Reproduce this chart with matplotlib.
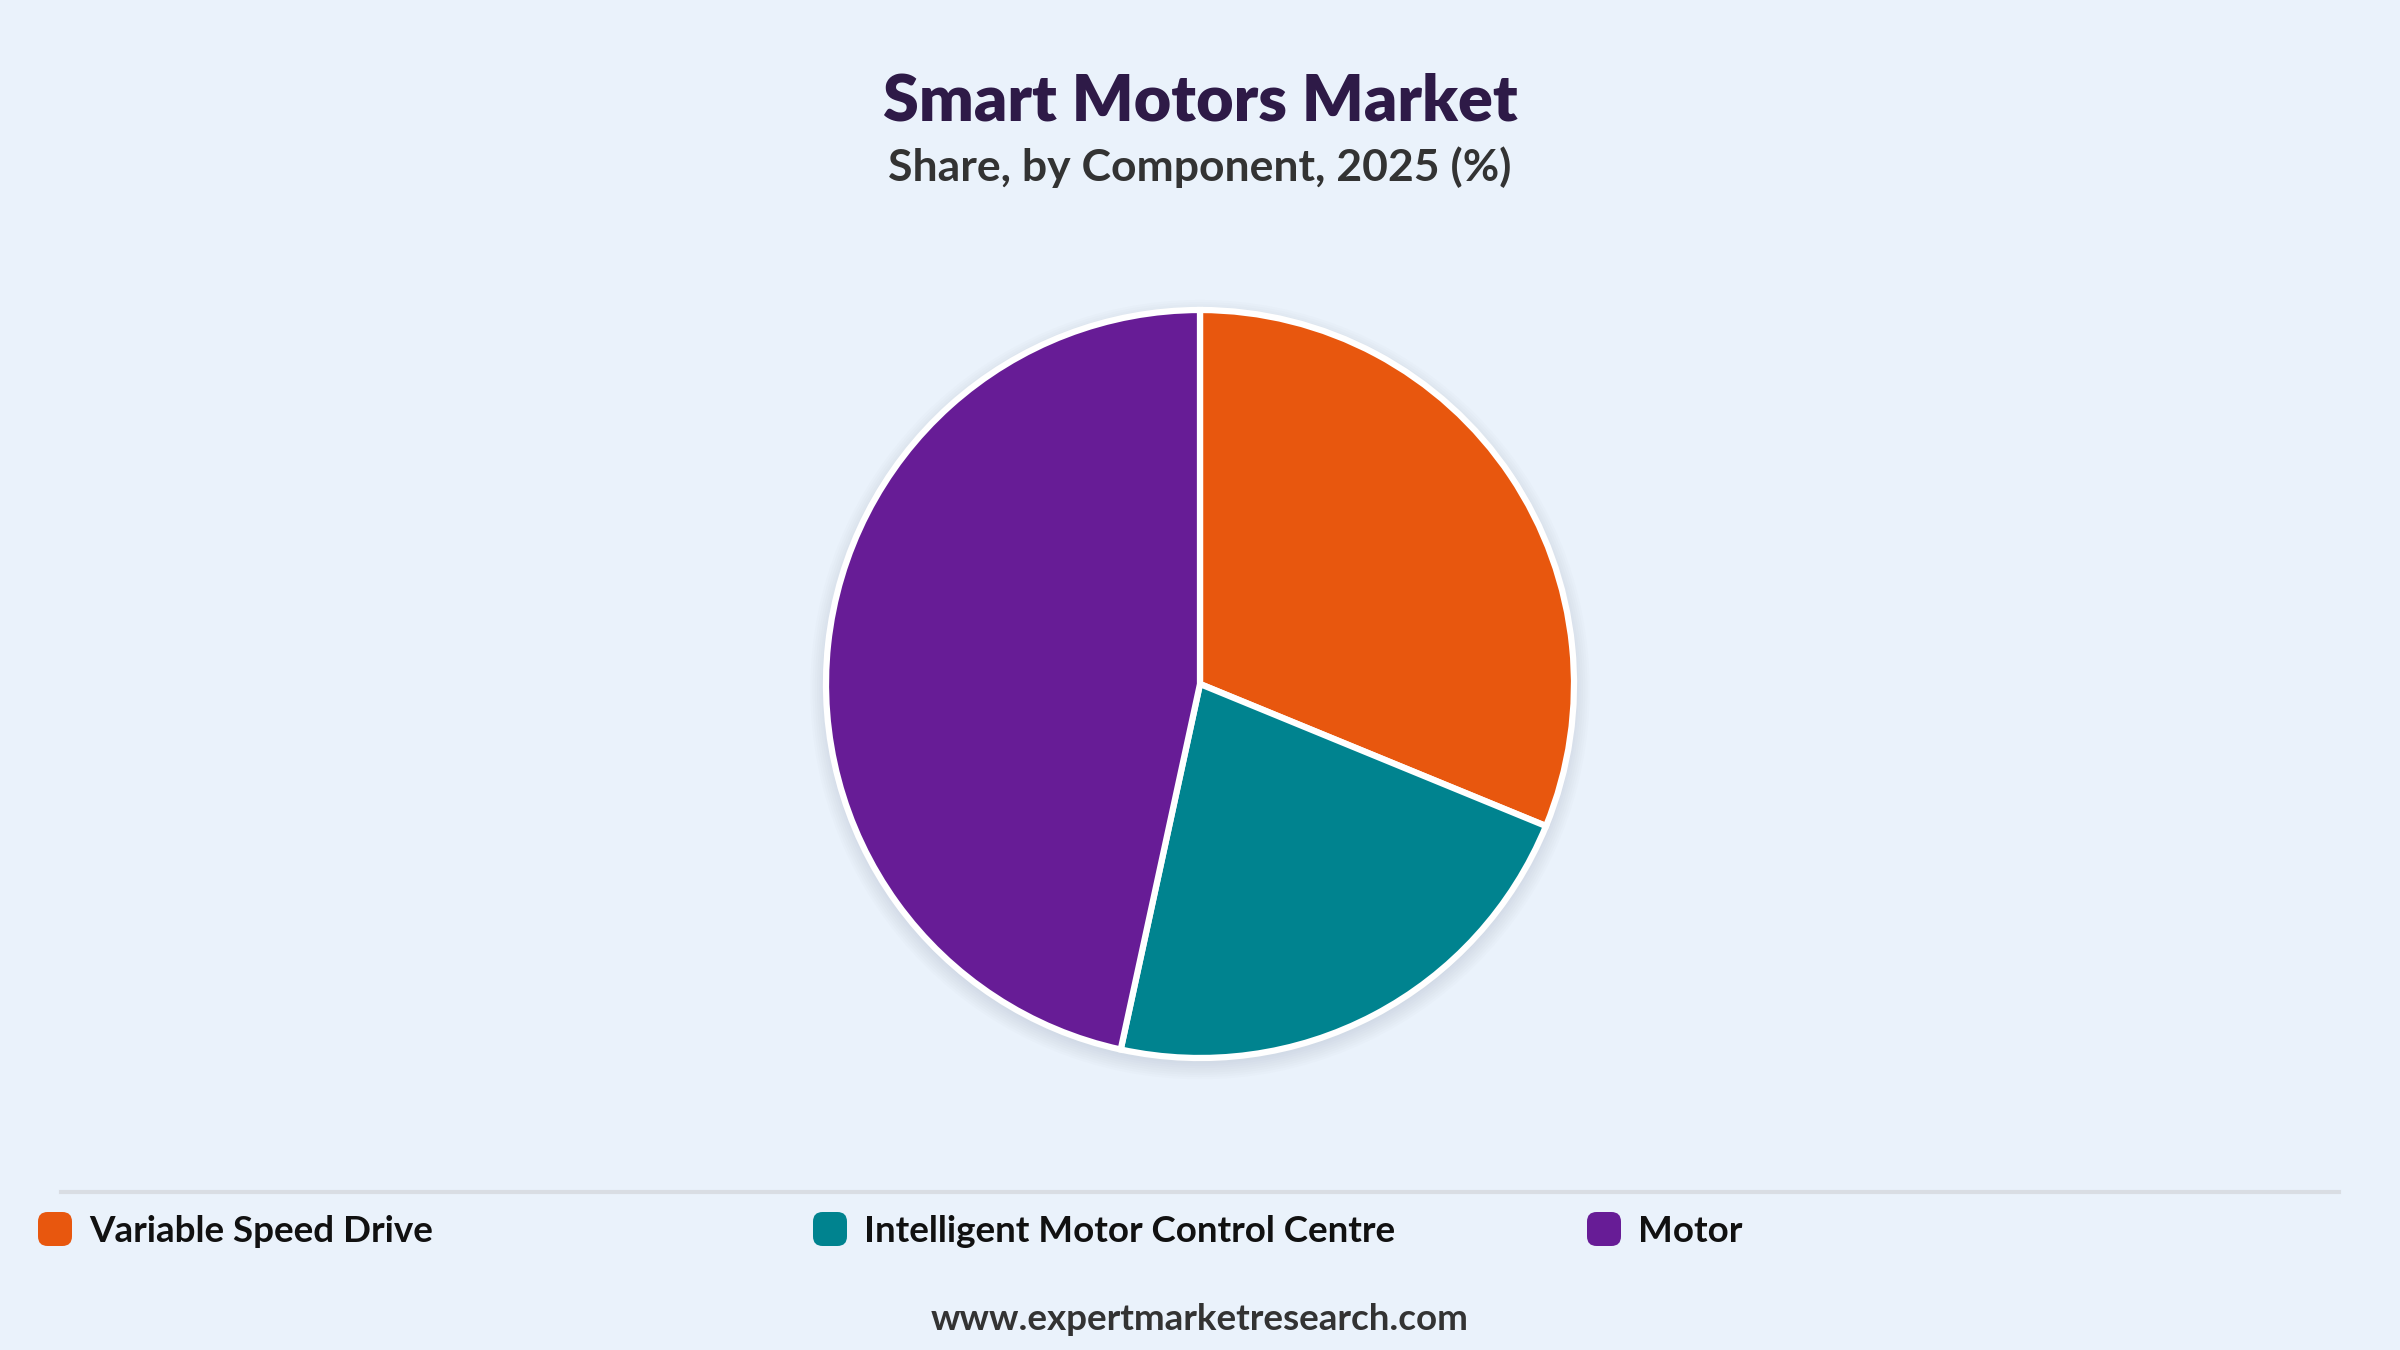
import matplotlib.pyplot as plt
from matplotlib.patches import FancyBboxPatch, Circle

# data
components = ['Variable Speed Drive', 'Intelligent Motor Control Centre', 'Motor']
shares = [31.2, 22.2, 46.6]
colors = ['#E8570E', '#00838F', '#671C96']

title = 'Smart Motors Market'
subtitle = 'Share, by Component, 2025 (%)'
footer = 'www.expertmarketresearch.com'

bg = '#EAF2FB'
W, H = 2400, 1350

plt.rcParams['font.family'] = ['Lato', 'DejaVu Sans']

fig = plt.figure(figsize=(24, 13.5), dpi=100, facecolor=bg)

# titles
fig.text(0.5, 1 - 102 / H, title, ha='center', va='center',
         fontsize=46.5, fontweight='heavy', color='#2E1A47')
fig.text(0.5, 1 - 167 / H, subtitle, ha='center', va='center',
         fontsize=32, fontweight='bold', color='#333333')

# pie
r_px = 374
cx, cy = 1200, 684
ax = fig.add_axes([(cx - r_px) / W, (H - cy - r_px) / H, 2 * r_px / W, 2 * r_px / H])
ax.set_facecolor('none')
ax.axis('off')

# soft shadow
for i in range(8):
    ax.add_patch(Circle((0.0, -0.015), 1.0 + 0.006 * i, color='#9aa6b8',
                        alpha=0.035, lw=0, zorder=0, clip_on=False))

ax.pie(shares, colors=colors, startangle=90, counterclock=False, radius=1.0,
       wedgeprops=dict(edgecolor='white', linewidth=4.5),
       frame=False)
ax.set_xlim(-1, 1)
ax.set_ylim(-1, 1)
ax.set_aspect('equal')
for w in ax.patches:
    w.set_clip_on(False)

# separator
fig.add_artist(plt.Line2D([61 / W, 2339 / W], [1 - 1192 / H, 1 - 1192 / H],
                          color='#D9DDE3', lw=3))

# legend
sq_x = [38, 813, 1587]
for x, lab, col in zip(sq_x, components, colors):
    fig.add_artist(FancyBboxPatch((x / W, 1 - 1246 / H), 34 / W, 34 / H,
                                  boxstyle='round,pad=0,rounding_size=0.004',
                                  transform=fig.transFigure, facecolor=col,
                                  edgecolor='none', mutation_aspect=W / H))
    fig.text((x + 51) / W, 1 - 1231 / H, lab, ha='left', va='center',
             fontsize=26.5, fontweight='bold', color='#111111')

# footer
fig.text(0.5, 1 - 1320 / H, footer, ha='center', va='center',
         fontsize=26.5, fontweight='bold', color='#333333')

fig.savefig('out.png', dpi=100, facecolor=bg)
